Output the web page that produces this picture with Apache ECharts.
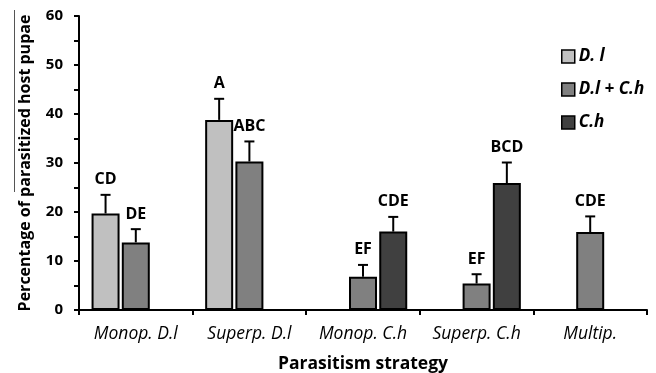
<!DOCTYPE html>
<html>
<head>
<meta charset="utf-8">
<script src="https://cdn.jsdelivr.net/npm/echarts@6/dist/echarts.min.js"></script>
<style>html,body{margin:0;padding:0;background:#fff}#c{width:656px;height:373px}</style>
</head>
<body>
<div id="c"></div>
<script>
const categories = ['Monop. D.l', 'Superp. D.l', 'Monop. C.h', 'Superp. C.h', 'Multip.'];
const seriesNames = ['D. l', 'D.l + C.h', 'C.h'];
const dlMeans   = [19.7, 38.8, null, null, null];
const dlErr     = [3.8, 4.3, null, null, null];
const dlLetters = ['CD', 'A', '', '', ''];
const dlchMeans   = [13.8, 30.3, 6.8, 5.4, 15.9];
const dlchErr     = [2.7, 4.1, 2.4, 1.9, 3.2];
const dlchLetters = ['DE', 'ABC', 'EF', 'EF', 'CDE'];
const chMeans   = [null, null, 16.0, 25.9, null];
const chErr     = [null, null, 3.0, 4.2, null];
const chLetters = ['', '', 'CDE', 'BCD', ''];
const yTicks = [0, 10, 20, 30, 40, 50, 60];

const colors = ['#c0c0c0', '#808080', '#404040'];
const BAR_W = 28, BAR_GAP = 0.08;
const FONT = "'Open Sans', 'Liberation Sans', sans-serif";

const allMeans = [dlMeans, dlchMeans, chMeans];
const allErr = [dlErr, dlchErr, chErr];
const allLetters = [dlLetters, dlchLetters, chLetters];
const errData = [], errLetters = [];
allMeans.forEach((arr, s) => {
  arr.forEach((v, i) => {
    if (v != null) {
      errData.push([i, s, v, allErr[s][i]]);
      errLetters.push(allLetters[s][i]);
    }
  });
});

const chart = echarts.init(document.getElementById('c'), null, {renderer: 'canvas'});
const barSeries = seriesNames.map((n, s) => ({
  name: n,
  type: 'bar',
  data: allMeans[s].map(v => v == null ? '-' : v),
  barWidth: BAR_W,
  barGap: (BAR_GAP * 100) + '%',
  itemStyle: {color: colors[s], borderColor: '#000', borderWidth: 2},
  z: 2
}));

chart.setOption({
  animation: false,
  backgroundColor: '#fff',
  grid: {left: 79, right: 9, top: 16, bottom: 63, containLabel: false, outerBoundsMode: 'none'},
  legend: {
    data: seriesNames,
    orient: 'vertical',
    left: 561, top: 47,
    padding: 0,
    itemWidth: 13, itemHeight: 13, itemGap: 14,
    icon: 'rect',
    itemStyle: {borderColor: '#000', borderWidth: 1.5},
    textStyle: {fontFamily: FONT, fontWeight: 'bold', fontStyle: 'italic', fontSize: 17, lineHeight: 19, color: '#000', padding: [0, 0, 0, -1]}
  },
  xAxis: {
    type: 'category',
    data: categories,
    name: 'Parasitism strategy',
    nameLocation: 'middle',
    nameGap: 45,
    nameTextStyle: {fontFamily: FONT, fontWeight: 'bold', fontSize: 17.5, color: '#000'},
    axisLine: {lineStyle: {color: '#000', width: 2}},
    axisTick: {show: true, length: 5, lineStyle: {color: '#000', width: 2}},
    axisLabel: {interval: 0, hideOverlap: false, fontFamily: FONT, fontStyle: 'italic', fontSize: 17.5, color: '#000', margin: 15}
  },
  yAxis: {
    type: 'value',
    min: yTicks[0], max: yTicks[yTicks.length - 1], interval: 10,
    name: 'Percentage of parasitized host pupae',
    nameLocation: 'middle',
    nameGap: 46,
    nameTextStyle: {fontFamily: FONT, fontWeight: 'bold', fontSize: 16, color: '#000'},
    axisLine: {show: true, lineStyle: {color: '#000', width: 2}},
    axisTick: {show: true, length: 5, lineStyle: {color: '#000', width: 2}},
    minorTick: {show: true, splitNumber: 2, length: 5, lineStyle: {color: '#000', width: 2}},
    splitLine: {show: false},
    axisLabel: {fontFamily: FONT, fontWeight: 'bold', fontSize: 15, color: '#000', margin: 16}
  },
  series: barSeries.concat([{
    type: 'custom',
    name: 'err',
    data: errData,
    encode: {x: 0, y: 2},
    z: 5,
    renderItem: function (params, api) {
      const cat = api.value(0), s = api.value(1), mean = api.value(2), err = api.value(3);
      const base = api.coord([cat, mean]);
      const top = api.coord([cat, mean + err]);
      const x = base[0] + (s - 1) * BAR_W * (1 + BAR_GAP);
      const ls = {stroke: '#000', lineWidth: 2};
      return {
        type: 'group',
        children: [
          {type: 'line', shape: {x1: x, y1: base[1], x2: x, y2: top[1]}, style: ls},
          {type: 'line', shape: {x1: x - 5, y1: top[1], x2: x + 5, y2: top[1]}, style: ls},
          {type: 'text', style: {text: errLetters[params.dataIndex], x: x, y: top[1] - 15,
            align: 'center', verticalAlign: 'middle',
            font: "bold 16px " + FONT, fill: '#000'}}
        ]
      };
    }
  }]),
  graphic: [{
    type: 'line', shape: {x1: 14.5, y1: 10, x2: 14.5, y2: 192},
    style: {stroke: '#555', lineWidth: 1}
  }]
});
</script>
</body>
</html>
